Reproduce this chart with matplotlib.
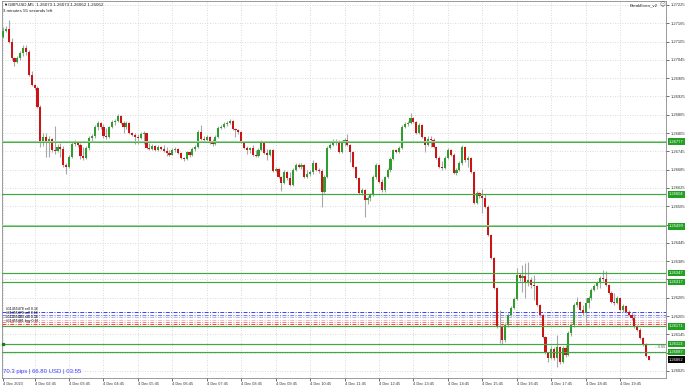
import numpy as np
import matplotlib
matplotlib.use("Agg")
import matplotlib.pyplot as plt
from matplotlib.transforms import blended_transform_factory

plt.rcParams['font.family'] = ['Liberation Sans', 'DejaVu Sans']

# GBPUSD M5 candles (open of each bar = previous close)
first_open = 1.27120
closes = [
    1.27140, 1.27146, 1.27104, 1.27051, 1.27038, 1.27051, 1.27068, 1.27084, 1.27071, 1.26995,
    1.26963, 1.26953, 1.26890, 1.26772, 1.26792, 1.26776, 1.26785, 1.26749, 1.26746, 1.26759,
    1.26753, 1.26700, 1.26694, 1.26726, 1.26769, 1.26776, 1.26766, 1.26730, 1.26723, 1.26756,
    1.26789, 1.26795, 1.26825, 1.26838, 1.26825, 1.26795, 1.26792, 1.26825, 1.26841, 1.26845,
    1.26861, 1.26838, 1.26825, 1.26838, 1.26805, 1.26799, 1.26792, 1.26789, 1.26802, 1.26805,
    1.26756, 1.26753, 1.26762, 1.26749, 1.26759, 1.26753, 1.26746, 1.26740, 1.26733, 1.26749,
    1.26753, 1.26740, 1.26723, 1.26720, 1.26743, 1.26733, 1.26753, 1.26759, 1.26808, 1.26785,
    1.26782, 1.26792, 1.26772, 1.26769, 1.26792, 1.26822, 1.26825, 1.26835, 1.26838, 1.26845,
    1.26818, 1.26815, 1.26808, 1.26776, 1.26756, 1.26749, 1.26756, 1.26733, 1.26730, 1.26749,
    1.26776, 1.26740, 1.26733, 1.26749, 1.26681, 1.26687, 1.26661, 1.26641, 1.26677, 1.26658,
    1.26635, 1.26684, 1.26700, 1.26694, 1.26700, 1.26661, 1.26671, 1.26677, 1.26707, 1.26684,
    1.26681, 1.26612, 1.26661, 1.26756, 1.26766, 1.26776, 1.26779, 1.26743, 1.26776, 1.26782,
    1.26766, 1.26743, 1.26694, 1.26658, 1.26608, 1.26618, 1.26585, 1.26592, 1.26602, 1.26661,
    1.26700, 1.26644, 1.26618, 1.26661, 1.26684, 1.26720, 1.26749, 1.26743, 1.26756, 1.26825,
    1.26835, 1.26838, 1.26854, 1.26841, 1.26805, 1.26831, 1.26792, 1.26766, 1.26785, 1.26782,
    1.26759, 1.26723, 1.26694, 1.26690, 1.26723, 1.26749, 1.26733, 1.26674, 1.26684, 1.26707,
    1.26759, 1.26717, 1.26723, 1.26677, 1.26576, 1.26608, 1.26599, 1.26592, 1.26562, 1.26471,
    1.26395, 1.26297, 1.26169, 1.26172, 1.26126, 1.26175, 1.26208, 1.26231, 1.26261, 1.26339,
    1.26330, 1.26336, 1.26316, 1.26323, 1.26307, 1.26303, 1.26241, 1.26208, 1.26136, 1.26084,
    1.26067, 1.26097, 1.26067, 1.26103, 1.26054, 1.26100, 1.26077, 1.26149, 1.26175, 1.26241,
    1.26251, 1.26225, 1.26215, 1.26248, 1.26264, 1.26290, 1.26303, 1.26313, 1.26330, 1.26326,
    1.26307, 1.26280, 1.26251, 1.26248, 1.26264, 1.26225, 1.26238, 1.26218, 1.26208, 1.26198,
    1.26169, 1.26159, 1.26133, 1.26110, 1.26073, 1.26062,
]
highs = [
    1.27153, 1.27156, 1.27176, 1.27117, 1.27054, 1.27058, 1.27074, 1.27094, 1.27094, 1.27077,
    1.27009, 1.26966, 1.26959, 1.26897, 1.26805, 1.26805, 1.26795, 1.26789, 1.26828, 1.26769,
    1.26772, 1.26762, 1.26707, 1.26733, 1.26776, 1.26782, 1.26779, 1.26772, 1.26759, 1.26762,
    1.26795, 1.26802, 1.26831, 1.26845, 1.26841, 1.26835, 1.26822, 1.26828, 1.26848, 1.26851,
    1.26867, 1.26864, 1.26845, 1.26845, 1.26841, 1.26808, 1.26805, 1.26802, 1.26808, 1.26812,
    1.26805, 1.26772, 1.26769, 1.26766, 1.26766, 1.26762, 1.26766, 1.26759, 1.26749, 1.26756,
    1.26759, 1.26756, 1.26743, 1.26726, 1.26746, 1.26746, 1.26759, 1.26766, 1.26815, 1.26831,
    1.26795, 1.26799, 1.26795, 1.26785, 1.26799, 1.26828, 1.26831, 1.26841, 1.26845, 1.26851,
    1.26848, 1.26822, 1.26818, 1.26812, 1.26779, 1.26762, 1.26759, 1.26766, 1.26749, 1.26756,
    1.26782, 1.26779, 1.26753, 1.26753, 1.26752, 1.26694, 1.26690, 1.26664, 1.26684, 1.26681,
    1.26677, 1.26690, 1.26707, 1.26707, 1.26707, 1.26704, 1.26684, 1.26684, 1.26717, 1.26710,
    1.26690, 1.26687, 1.26667, 1.26762, 1.26772, 1.26785, 1.26785, 1.26782, 1.26782, 1.26789,
    1.26802, 1.26769, 1.26746, 1.26697, 1.26661, 1.26625, 1.26622, 1.26599, 1.26608, 1.26667,
    1.26707, 1.26704, 1.26654, 1.26664, 1.26690, 1.26726, 1.26753, 1.26753, 1.26762, 1.26831,
    1.26841, 1.26845, 1.26871, 1.26858, 1.26845, 1.26838, 1.26835, 1.26792, 1.26795, 1.26795,
    1.26789, 1.26762, 1.26730, 1.26713, 1.26730, 1.26756, 1.26753, 1.26740, 1.26690, 1.26713,
    1.26766, 1.26762, 1.26730, 1.26726, 1.26681, 1.26615, 1.26612, 1.26622, 1.26605, 1.26569,
    1.26474, 1.26398, 1.26300, 1.26225, 1.26175, 1.26182, 1.26215, 1.26238, 1.26267, 1.26362,
    1.26346, 1.26372, 1.26379, 1.26382, 1.26333, 1.26339, 1.26307, 1.26244, 1.26212, 1.26139,
    1.26087, 1.26107, 1.26103, 1.26143, 1.26107, 1.26107, 1.26110, 1.26156, 1.26182, 1.26248,
    1.26267, 1.26254, 1.26241, 1.26264, 1.26270, 1.26297, 1.26310, 1.26320, 1.26336, 1.26356,
    1.26353, 1.26310, 1.26287, 1.26280, 1.26270, 1.26267, 1.26244, 1.26241, 1.26225, 1.26218,
    1.26212, 1.26175, 1.26166, 1.26136, 1.26116, 1.26073,
]
lows = [
    1.27117, 1.27136, 1.27100, 1.27045, 1.27025, 1.27035, 1.27045, 1.27058, 1.27061, 1.26992,
    1.26959, 1.26946, 1.26887, 1.26759, 1.26762, 1.26726, 1.26726, 1.26743, 1.26736, 1.26743,
    1.26726, 1.26694, 1.26671, 1.26690, 1.26723, 1.26762, 1.26759, 1.26720, 1.26717, 1.26720,
    1.26749, 1.26776, 1.26789, 1.26815, 1.26818, 1.26789, 1.26785, 1.26789, 1.26822, 1.26831,
    1.26841, 1.26835, 1.26805, 1.26818, 1.26802, 1.26795, 1.26769, 1.26769, 1.26785, 1.26769,
    1.26753, 1.26749, 1.26749, 1.26746, 1.26746, 1.26749, 1.26743, 1.26730, 1.26730, 1.26733,
    1.26743, 1.26736, 1.26720, 1.26713, 1.26717, 1.26726, 1.26730, 1.26746, 1.26756, 1.26782,
    1.26779, 1.26779, 1.26769, 1.26762, 1.26766, 1.26789, 1.26818, 1.26822, 1.26828, 1.26835,
    1.26815, 1.26792, 1.26802, 1.26772, 1.26753, 1.26736, 1.26740, 1.26730, 1.26726, 1.26726,
    1.26746, 1.26736, 1.26717, 1.26730, 1.26677, 1.26677, 1.26658, 1.26615, 1.26638, 1.26651,
    1.26631, 1.26631, 1.26681, 1.26690, 1.26687, 1.26658, 1.26658, 1.26664, 1.26671, 1.26681,
    1.26674, 1.26562, 1.26608, 1.26658, 1.26753, 1.26762, 1.26766, 1.26740, 1.26740, 1.26762,
    1.26762, 1.26710, 1.26690, 1.26654, 1.26605, 1.26602, 1.26530, 1.26572, 1.26582, 1.26599,
    1.26654, 1.26641, 1.26612, 1.26612, 1.26658, 1.26677, 1.26717, 1.26740, 1.26740, 1.26753,
    1.26822, 1.26828, 1.26835, 1.26838, 1.26802, 1.26802, 1.26789, 1.26743, 1.26762, 1.26759,
    1.26756, 1.26720, 1.26690, 1.26684, 1.26687, 1.26720, 1.26730, 1.26671, 1.26667, 1.26681,
    1.26700, 1.26710, 1.26694, 1.26674, 1.26572, 1.26572, 1.26592, 1.26543, 1.26559, 1.26467,
    1.26392, 1.26294, 1.26166, 1.26116, 1.26113, 1.26120, 1.26169, 1.26205, 1.26228, 1.26257,
    1.26320, 1.26284, 1.26264, 1.26303, 1.26297, 1.26257, 1.26238, 1.26205, 1.26133, 1.26080,
    1.26054, 1.26064, 1.26061, 1.26038, 1.26048, 1.26051, 1.26070, 1.26074, 1.26139, 1.26169,
    1.26234, 1.26221, 1.26208, 1.26185, 1.26231, 1.26257, 1.26287, 1.26294, 1.26297, 1.26320,
    1.26303, 1.26277, 1.26248, 1.26241, 1.26244, 1.26221, 1.26218, 1.26215, 1.26205, 1.26192,
    1.26166, 1.26156, 1.26130, 1.26107, 1.26070, 1.26062,
]

# horizontal lines on the chart
green_levels = [1.26777, 1.26604, 1.26499, 1.26347, 1.26317, 1.26171, 1.26113, 1.26087]
thick_levels = [1.26777, 1.26499]
order_levels = [1.26217, 1.26210, 1.26202, 1.26193, 1.26187, 1.26180]
order_colors = ['#3a3aff', '#7c7cff', '#b4b4ff', '#ffb4b4', '#ff7c7c', '#ff3a3a']
order_texts = ["#11455478 sell 0.16", "#11455479 sell 0.16",
               "#11455480 sell 0.16", "#11455481 buy 0.16"]
current_price = 1.26062

price_ticks = np.round(1.26025 + 0.0006 * np.arange(21), 5)
time_labels = ["4 Dec 2023", "4 Dec 02:45", "4 Dec 03:45", "4 Dec 04:45", "4 Dec 05:45",
               "4 Dec 06:45", "4 Dec 07:45", "4 Dec 08:45", "4 Dec 09:45", "4 Dec 10:45",
               "4 Dec 11:45", "4 Dec 12:45", "4 Dec 13:45", "4 Dec 14:45", "4 Dec 15:45",
               "4 Dec 16:45", "4 Dec 17:45", "4 Dec 18:45", "4 Dec 19:45"]
time_label_bars = [0] + [11 + 12 * k for k in range(len(time_labels) - 1)]

closes = np.array(closes)
highs = np.array(highs)
lows = np.array(lows)
opens = np.concatenate([[first_open], closes[:-1]])
x = np.arange(len(closes))
up = closes >= opens

W, H = 690, 388
fig = plt.figure(figsize=(W / 100, H / 100), dpi=100)
ax = fig.add_axes([2 / W, 10 / H, 664 / W, 377 / H])
ax.set_xlim(-0.35, 231.0)
ax.set_ylim(1.26002, 1.27238)

# candles
ax.vlines(x, lows, highs, color='#a8a8a8', lw=0.8, zorder=2)
bottom = np.minimum(opens, closes)
height = np.maximum(np.abs(closes - opens), 0.00002)
ax.bar(x[up], height[up], bottom=bottom[up], width=0.74, color='#2f9e2f', lw=0, zorder=3)
ax.bar(x[~up], height[~up], bottom=bottom[~up], width=0.74, color='#cc1414', lw=0, zorder=3)

# order lines (dash-dot) and level lines
for lv, c in zip(order_levels, order_colors):
    ax.axhline(lv, color=c, lw=0.7, ls=(0, (4, 1.5, 1, 1.5)), zorder=1.8)
for lv in green_levels:
    if lv in thick_levels:
        ax.axhline(lv, color='#9ad49a', lw=1.4, zorder=4)
        ax.axhline(lv, color='#3fa83f', lw=0.6, zorder=4)
    else:
        ax.axhline(lv, color='#3fa83f', lw=0.85, zorder=4)
ax.plot([0], [1.26113], 's', ms=1.6, color='#1a7f1a', zorder=5, clip_on=False)

# order labels, one under the other at the left edge
tr_ax = blended_transform_factory(ax.transData, fig.transFigure)
for i, t in enumerate(order_texts):
    ax.text(1.0, 1 - (309 + 4 * i) / H, t, transform=tr_ax, fontsize=2.5,
            color='black', va='center', ha='left', zorder=6)

# axes styling like MT4 (labels hidden under the price boxes are left blank)
ax.yaxis.tick_right()
ax.set_yticks(price_ticks)
covered = [min(abs(p - lv) for lv in green_levels + [current_price]) < 0.00012
           for p in price_ticks]
ax.set_yticklabels(["" if c else f"{p:.5f}" for p, c in zip(price_ticks, covered)])
ax.set_xticks(time_label_bars)
ax.set_xticklabels(time_labels, ha='left')
ax.tick_params(axis='y', labelsize=3.0, length=2, pad=1.5, width=0.5, colors='#333333')
ax.tick_params(axis='x', labelsize=2.8, length=2, pad=1.2, width=0.5, colors='#333333')
ax.grid(True, color='#cfcfcf', ls=(0, (1, 2)), lw=0.6)
ax.set_axisbelow(True)
for s in ax.spines.values():
    s.set_color('#8a8a8a')
    s.set_linewidth(0.6)

# price boxes on the right scale
tr = blended_transform_factory(ax.transAxes, ax.transData)
for lv in green_levels:
    ax.text(1.0045, lv, f"{lv:.5f}", transform=tr, fontsize=3.0, color='white',
            va='center', ha='left', zorder=10, clip_on=False,
            bbox=dict(boxstyle='square,pad=0.3', fc='#22a022', ec='none'))
ax.text(1.0045, current_price, f"{current_price:.5f}", transform=tr, fontsize=3.0,
        color='white', va='center', ha='left', zorder=10, clip_on=False,
        bbox=dict(boxstyle='square,pad=0.3', fc='black', ec='none'))
ax.text(0.9985, 1.26104, "- 3:55", transform=tr, fontsize=3.0, color='#555555',
        va='center', ha='right', zorder=6)

# header and footer texts
fig.text(3 / W, 1 - 4.5 / H, "\u25bc", fontsize=3.0, va='center', ha='left')
fig.text(8 / W, 1 - 4.5 / H, "GBPUSD,M5  1.26073 1.26073 1.26062 1.26062",
         fontsize=3.2, va='center', ha='left', color='#222222')
fig.text(3 / W, 1 - 10.5 / H, "3 minutes 55 seconds left", fontsize=3.2,
         va='center', ha='left', color='#222222')
fig.text(658 / W, 1 - 5 / H, "BreakEven_v2", fontsize=3.2, va='center', ha='right',
         color='#222222')
fig.text(662 / W, 1 - 5 / H, "\u263a", fontsize=4.0, va='center', ha='center',
         color='#555555', family='DejaVu Sans')
fig.text(3 / W, 1 - 371 / H, "70.3 pips | 66.80 USD | 03:55", fontsize=4.3,
         va='center', ha='left', color='#3c3cff')

fig.savefig("out.png", dpi=100)
